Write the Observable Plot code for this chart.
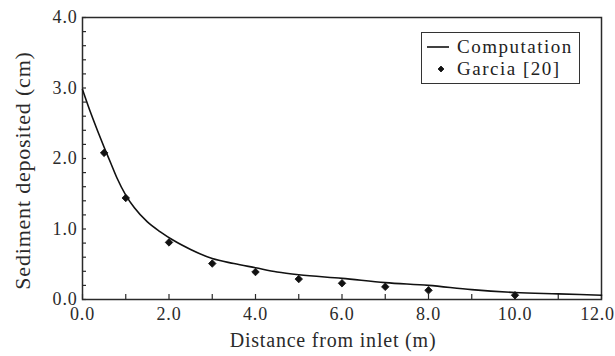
<!DOCTYPE html>
<html>
<head>
<meta charset="utf-8">
<script src="https://cdn.jsdelivr.net/npm/d3@7"></script>
<script src="https://cdn.jsdelivr.net/npm/@observablehq/plot@0.6"></script>
<style>
  html, body { margin: 0; padding: 0; background: #fff; }
  #fig { position: relative; width: 615px; height: 356px; }
  #legend {
    position: absolute; left: 421px; top: 32px; width: 157px; height: 50px;
    border: 1.5px solid #333; background: #fff;
    font-family: "Liberation Serif", serif;
    font-size: 19px; color: #222; letter-spacing: 1.5px;
  }
  #legend .row { position: absolute; left: 0; height: 22px; line-height: 22px; white-space: nowrap; }
  #legend svg { position: absolute; left: 0; top: 0; }
  #legend span { position: absolute; left: 35px; }
</style>
</head>
<body>
<div id="fig"></div>
<script>
// Computed deposit thickness along the channel
const compX = [0, 0.2, 0.35, 0.5, 0.65, 0.8, 1.0, 1.2, 1.5, 1.8, 2.1, 2.5, 3.0, 3.5, 4.0, 4.5, 5.0, 6.0, 7.0, 8.0, 9.0, 10.0, 11.0, 12.0];
const compY = [2.98, 2.63, 2.39, 2.16, 1.94, 1.72, 1.48, 1.30, 1.10, 0.96, 0.84, 0.71, 0.58, 0.51, 0.45, 0.39, 0.35, 0.30, 0.24, 0.20, 0.14, 0.10, 0.08, 0.06];

// Measured deposit thickness (Garcia [20])
const obsX = [0.5, 1.0, 2.0, 3.0, 4.0, 5.0, 6.0, 7.0, 8.0, 10.0];
const obsY = [2.08, 1.44, 0.81, 0.51, 0.39, 0.29, 0.23, 0.18, 0.13, 0.06];

const xTickLabels = [0, 2, 4, 6, 8, 10, 12];
const yTickLabels = [0, 1, 2, 3, 4];
const xMinorTicks = d3.range(0, 12.001, 1);
const yMinorTicks = d3.range(0, 4.001, 0.2).map(v => +v.toFixed(1));

const computation = compX.map((x, i) => ({x, y: compY[i]}));
const garcia = obsX.map((x, i) => ({x, y: obsY[i]}));

const W = 615, H = 356;
const mL = 82, mR = 14, mT = 17, mB = 57;
const innerW = W - mL - mR, innerH = H - mT - mB;
const ink = "#2a2a2a";
const serif = '"Liberation Serif", serif';
const fmt = d => d.toFixed(1);
const lastX = xTickLabels[xTickLabels.length - 1];

const chart = Plot.plot({
  width: W,
  height: H,
  marginLeft: mL,
  marginRight: mR,
  marginTop: mT,
  marginBottom: mB,
  style: {fontFamily: serif, fontSize: "18px", color: ink, background: "#fff", letterSpacing: "0.8px"},
  x: {domain: [0, 12]},
  y: {domain: [0, 4]},
  marks: [
    Plot.frame({stroke: ink, strokeWidth: 1.5}),
    // inward ticks along the bottom and left edges
    Plot.ruleX(xMinorTicks, {x: d => d, insetTop: innerH - 5, stroke: ink, strokeWidth: 1.2}),
    Plot.ruleY(yMinorTicks, {y: d => d, insetRight: innerW - 4, stroke: ink, strokeWidth: 1.2}),
    Plot.axisX(xTickLabels.filter(d => d !== lastX), {tickSize: 0, tickPadding: 8, tickFormat: fmt, label: null, fill: ink, fontFamily: serif}),
    // the last label is nudged inward so it stays on the page
    Plot.axisX([lastX], {tickSize: 0, tickPadding: 8, tickFormat: fmt, label: null, fill: ink, fontFamily: serif, dx: -4}),
    Plot.axisY(yTickLabels, {tickSize: 0, tickPadding: 5, tickFormat: fmt, label: null, fill: ink, fontFamily: serif}),
    Plot.text(["Distance from inlet (m)"], {
      frameAnchor: "bottom", dy: 47, dx: -9, text: d => d, textAnchor: "middle",
      fontSize: 20, fill: ink, letterSpacing: "1.2px", fontFamily: serif
    }),
    Plot.text(["Sediment deposited (cm)"], {
      frameAnchor: "left", dx: -60, dy: 12, rotate: -90, text: d => d, textAnchor: "middle",
      fontSize: 22, fill: ink, letterSpacing: "1.8px", fontFamily: serif
    }),
    Plot.line(computation, {x: "x", y: "y", stroke: "#111", strokeWidth: 1.6, curve: "monotone-x"}),
    Plot.dot(garcia, {x: "x", y: "y", symbol: "diamond2", r: 3.4, fill: "#111", stroke: "#111", strokeWidth: 0.8})
  ]
});

const fig = document.getElementById("fig");
fig.appendChild(chart);

// Legend box
const legend = document.createElement("div");
legend.id = "legend";
legend.innerHTML = `
  <div class="row" style="top:3px;width:100%">
    <svg width="32" height="22"><line x1="5" x2="27" y1="11" y2="11" stroke="#111" stroke-width="1.6"/></svg>
    <span>Computation</span>
  </div>
  <div class="row" style="top:25px;width:100%">
    <svg width="32" height="22"><path d="M19,8 L22,11 L19,14 L16,11 Z" fill="#111" stroke="#111" stroke-width="0.8"/></svg>
    <span>Garcia [20]</span>
  </div>`;
fig.appendChild(legend);
</script>
</body>
</html>
